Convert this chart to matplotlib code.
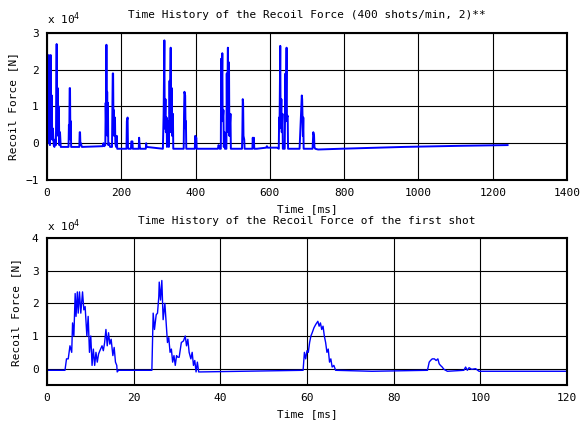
import matplotlib
matplotlib.use("Agg")
import matplotlib.pyplot as plt

plt.rcParams['font.family'] = ['DejaVu Sans Mono', 'DejaVu Sans']

# ---------------- data (force in units of 1e4 N) ----------------
top_title = "Time History of the Recoil Force (400 shots/min, 2)**"
bot_title = "Time History of the Recoil Force of the first shot"
xlabel = "Time [ms]"
ylabel = "Recoil Force [N]"

t_top = [0, 2, 4, 5, 6, 8, 10, 11, 13, 14, 16, 18, 20, 22, 24, 26, 27, 29, 30, 32, 33, 35, 37, 40,
         58, 59, 60, 61, 62, 63, 64, 65, 87, 88, 89, 90, 91, 94, 150, 152, 154, 157, 158, 159, 160,
         161, 162, 163, 164, 165, 167, 170, 175, 176, 177, 178, 179, 180, 181, 183, 184, 186, 188,
         189, 195, 214, 215, 217, 218, 219, 226, 227, 230, 231, 247, 248, 249, 250, 251, 266, 267,
         268, 312, 314, 316, 317, 319, 320, 322, 323, 326, 328, 330, 331, 333, 334, 336, 337, 339,
         340, 345, 368, 369, 370, 372, 373, 374, 375, 398, 399, 400, 402, 403, 460, 462, 465, 468,
         469, 470, 472, 473, 475, 476, 478, 479, 483, 484, 485, 487, 488, 490, 491, 494, 495, 525,
         526, 527, 528, 529, 531, 532, 553, 554, 555, 557, 558, 565, 590, 592, 594, 620, 624, 625,
         626, 628, 629, 631, 632, 634, 635, 640, 642, 643, 645, 646, 648, 649, 653, 680, 684, 686,
         687, 689, 690, 691, 715, 717, 719, 720, 722, 730, 790, 860, 960, 1110, 1240]
f_top = [-0.05, 0.3, 0.0, 2.4, 0.5, -0.05, 2.4, 0.3, 1.3, 0.1, 0.4, -0.05, -0.1, 0.1, -0.05, 2.7,
         0.3, 1.5, 0.2, 1.0, -0.05, 0.3, -0.1, -0.1,
         -0.1, 0.5, 0.2, 1.5, 1.5, 0.1, 0.6, -0.1, -0.1, 0.3, 0.3, -0.05, 0.0, -0.1, -0.08, 0.0,
         -0.08, -0.05, 1.1, 0.5, 2.68,
         0.4, 1.4, 0.2, 1.1, -0.05, 0.0, -0.1, -0.1, 0.8, 1.9, 1.9, 0.5, 0.9, 0.2, 0.7, 0.0, -0.1, 0.2,
         -0.15, -0.15, -0.15, 0.6, 0.7, -0.1, -0.15, -0.15, 0.05, 0.05, -0.15, -0.15, 0.15, 0.0, -0.1,
         -0.15, -0.15, 0.0,
         -0.1, -0.15, 0.8, 2.8, 0.4, 1.2, 0.3, 0.7, -0.1, 0.6, -0.1, 1.7, 0.8, 2.6, 0.3, 1.5, 0.2, 0.8,
         -0.15, -0.15, -0.15, 0.8, 1.4, 1.3, 0.4, 0.6, -0.15, -0.15, 0.2, 0.1, 0.15, -0.15, -0.15,
         -0.05, -0.15, -0.15,
         2.3, 0.7, 2.45, 0.6, 0.9, -0.1, 0.3, -0.15, -0.15, 1.9, 0.5, 2.6, 0.3, 2.2, 0.2, 0.8, -0.15,
         -0.15,
         0.3, 1.2, 1.1, 0.2, 0.1, -0.15, -0.15, 0.15, 0.0, 0.15, -0.15, -0.15, -0.12, -0.08, -0.12,
         -0.12, -0.15, 0.7,
         0.4, 2.65, 0.5, 1.2, 0.3, 0.8, -0.15, -0.15, 1.9, 0.6, 2.6, 0.7, 0.75, -0.15, -0.15, -0.15,
         0.8, 1.3,
         1.2, 0.2, 0.7, -0.15, -0.15, 0.3, 0.2, -0.1, -0.15, -0.17, -0.15, -0.13, -0.1, -0.07, -0.05]

t_bot = [0, 2, 4.15, 4.5, 4.9, 5.3, 5.7, 5.9, 6.2, 6.5, 6.7, 7.0, 7.2, 7.5, 7.8, 8.2, 8.5, 8.8, 9.2,
         9.5, 9.8, 10.1, 10.4, 10.7, 11.0, 11.3, 11.6, 11.9, 12.2, 12.7, 13.0, 13.3, 13.6, 13.9, 14.2,
         14.5, 14.8, 15.2, 15.5, 15.8, 16.1, 16.2, 16.5, 20, 24.2,
         24.5, 24.8, 25.2, 25.5, 25.8, 25.9, 26.2, 26.5, 26.8, 27.2, 27.5, 27.8, 28.1, 28.4, 28.7,
         29.0, 29.3, 29.6, 29.9, 30.2, 30.5, 31.0, 31.5, 31.9, 32.2, 32.5, 32.8, 33.2, 33.5, 33.8,
         34.1, 34.4, 34.7, 35.0, 35.3, 45, 59.1,
         59.4, 59.7, 60.0, 60.3, 60.6, 60.9, 61.2, 61.6, 62.0, 62.5, 62.8, 63.1, 63.4, 63.7, 64.0,
         64.3, 64.6, 64.9, 65.2, 65.5, 65.8, 66.2, 66.6, 75, 87.8,
         88.2, 88.5, 88.9, 89.4, 89.8, 90.2, 90.5, 90.8, 91.2, 91.6, 92.4, 96.2, 96.6, 97.0, 97.4,
         98.0, 98.9, 99.7, 110, 120]
f_bot = [-0.05, -0.05, -0.05, 0.3, 0.3, 0.7, 0.5, 1.4, 1.0, 2.3, 1.6, 2.35, 1.7, 2.35, 1.7, 2.35, 1.8,
         1.9, 1.0,
         1.6, 0.5, 1.0, 0.1, 0.6, 0.1, 0.5, 0.2, 0.45, 0.55, 0.7, 0.55, 0.8, 1.2, 0.7, 1.1,
         0.75, 0.9, 0.4, 0.65, 0.2, 0.1, -0.1, -0.05, -0.05, -0.05,
         1.7, 1.2, 1.65, 1.7, 2.2, 2.65, 2.1, 2.7, 1.5, 2.0, 1.4, 0.8, 0.95, 0.5, 0.6,
         0.2, 0.4, 0.1, 0.4, 0.35, 0.35, 0.8, 0.85, 1.0, 0.7, 0.9, 0.5, 0.3, 0.5, 0.1,
         0.25, -0.1, 0.2, -0.1, -0.1, -0.08, -0.05,
         0.5, 0.3, 0.55, 0.5, 0.8, 1.0, 1.1, 1.25, 1.35, 1.45, 1.3, 1.4, 1.2, 1.3, 1.0,
         0.8, 0.5, 0.6, 0.2, 0.3, 0.05, 0.1, -0.05, -0.08, -0.05,
         0.2, 0.25, 0.3, 0.3, 0.25, 0.3, 0.15, 0.1, 0.05, -0.02, -0.08, -0.05, 0.05, -0.05, 0.03,
         -0.02, 0.0, -0.08, -0.08, -0.08]

top_xticks = [0, 200, 400, 600, 800, 1000, 1200, 1400]
top_yticks = [-1, 0, 1, 2, 3]
bot_xticks = [0, 20, 40, 60, 80, 100, 120]
bot_yticks = [0, 1, 2, 3, 4]

# ---------------- figure ----------------
W, H = 581, 423
fig = plt.figure(figsize=(W / 100, H / 100), dpi=100)
fs = 8


def style(ax):
    for s in ax.spines.values():
        s.set_linewidth(1.5)
        s.set_color('black')
    ax.grid(True, color='black', linewidth=0.8)
    ax.set_axisbelow(True)
    ax.tick_params(direction='in', length=0, labelsize=fs, pad=6)
    ax.set_facecolor('white')


ax1 = fig.add_axes([47 / W, 1 - 180 / H, 520 / W, 147 / H])
ax1.plot(t_top, f_top, color='#0000ff', linewidth=1.4)
ax1.set_xlim(0, 1400)
ax1.set_ylim(-1, 3)
ax1.set_xticks(top_xticks)
ax1.set_yticks(top_yticks)
style(ax1)
ax1.set_title(top_title, fontsize=fs, pad=11)
ax1.set_xlabel(xlabel, fontsize=fs, labelpad=4)
ax1.set_ylabel(ylabel, fontsize=fs, labelpad=5)
ax1.text(0.0, 1.04, r"x 10$^4$", transform=ax1.transAxes, fontsize=fs, ha='left', va='bottom')

ax2 = fig.add_axes([47 / W, 1 - 385 / H, 520 / W, 147 / H])
ax2.plot(t_bot, f_bot, color='#0000ff', linewidth=1.0)
ax2.set_xlim(0, 120)
ax2.set_ylim(-0.5, 4)
ax2.set_xticks(bot_xticks)
ax2.set_yticks(bot_yticks)
style(ax2)
ax2.set_title(bot_title, fontsize=fs, pad=10)
ax2.set_xlabel(xlabel, fontsize=fs, labelpad=4)
ax2.set_ylabel(ylabel, fontsize=fs, labelpad=8)
ax2.text(0.0, 1.03, r"x 10$^4$", transform=ax2.transAxes, fontsize=fs, ha='left', va='bottom')

fig.savefig("out.png", dpi=100, facecolor='white')
